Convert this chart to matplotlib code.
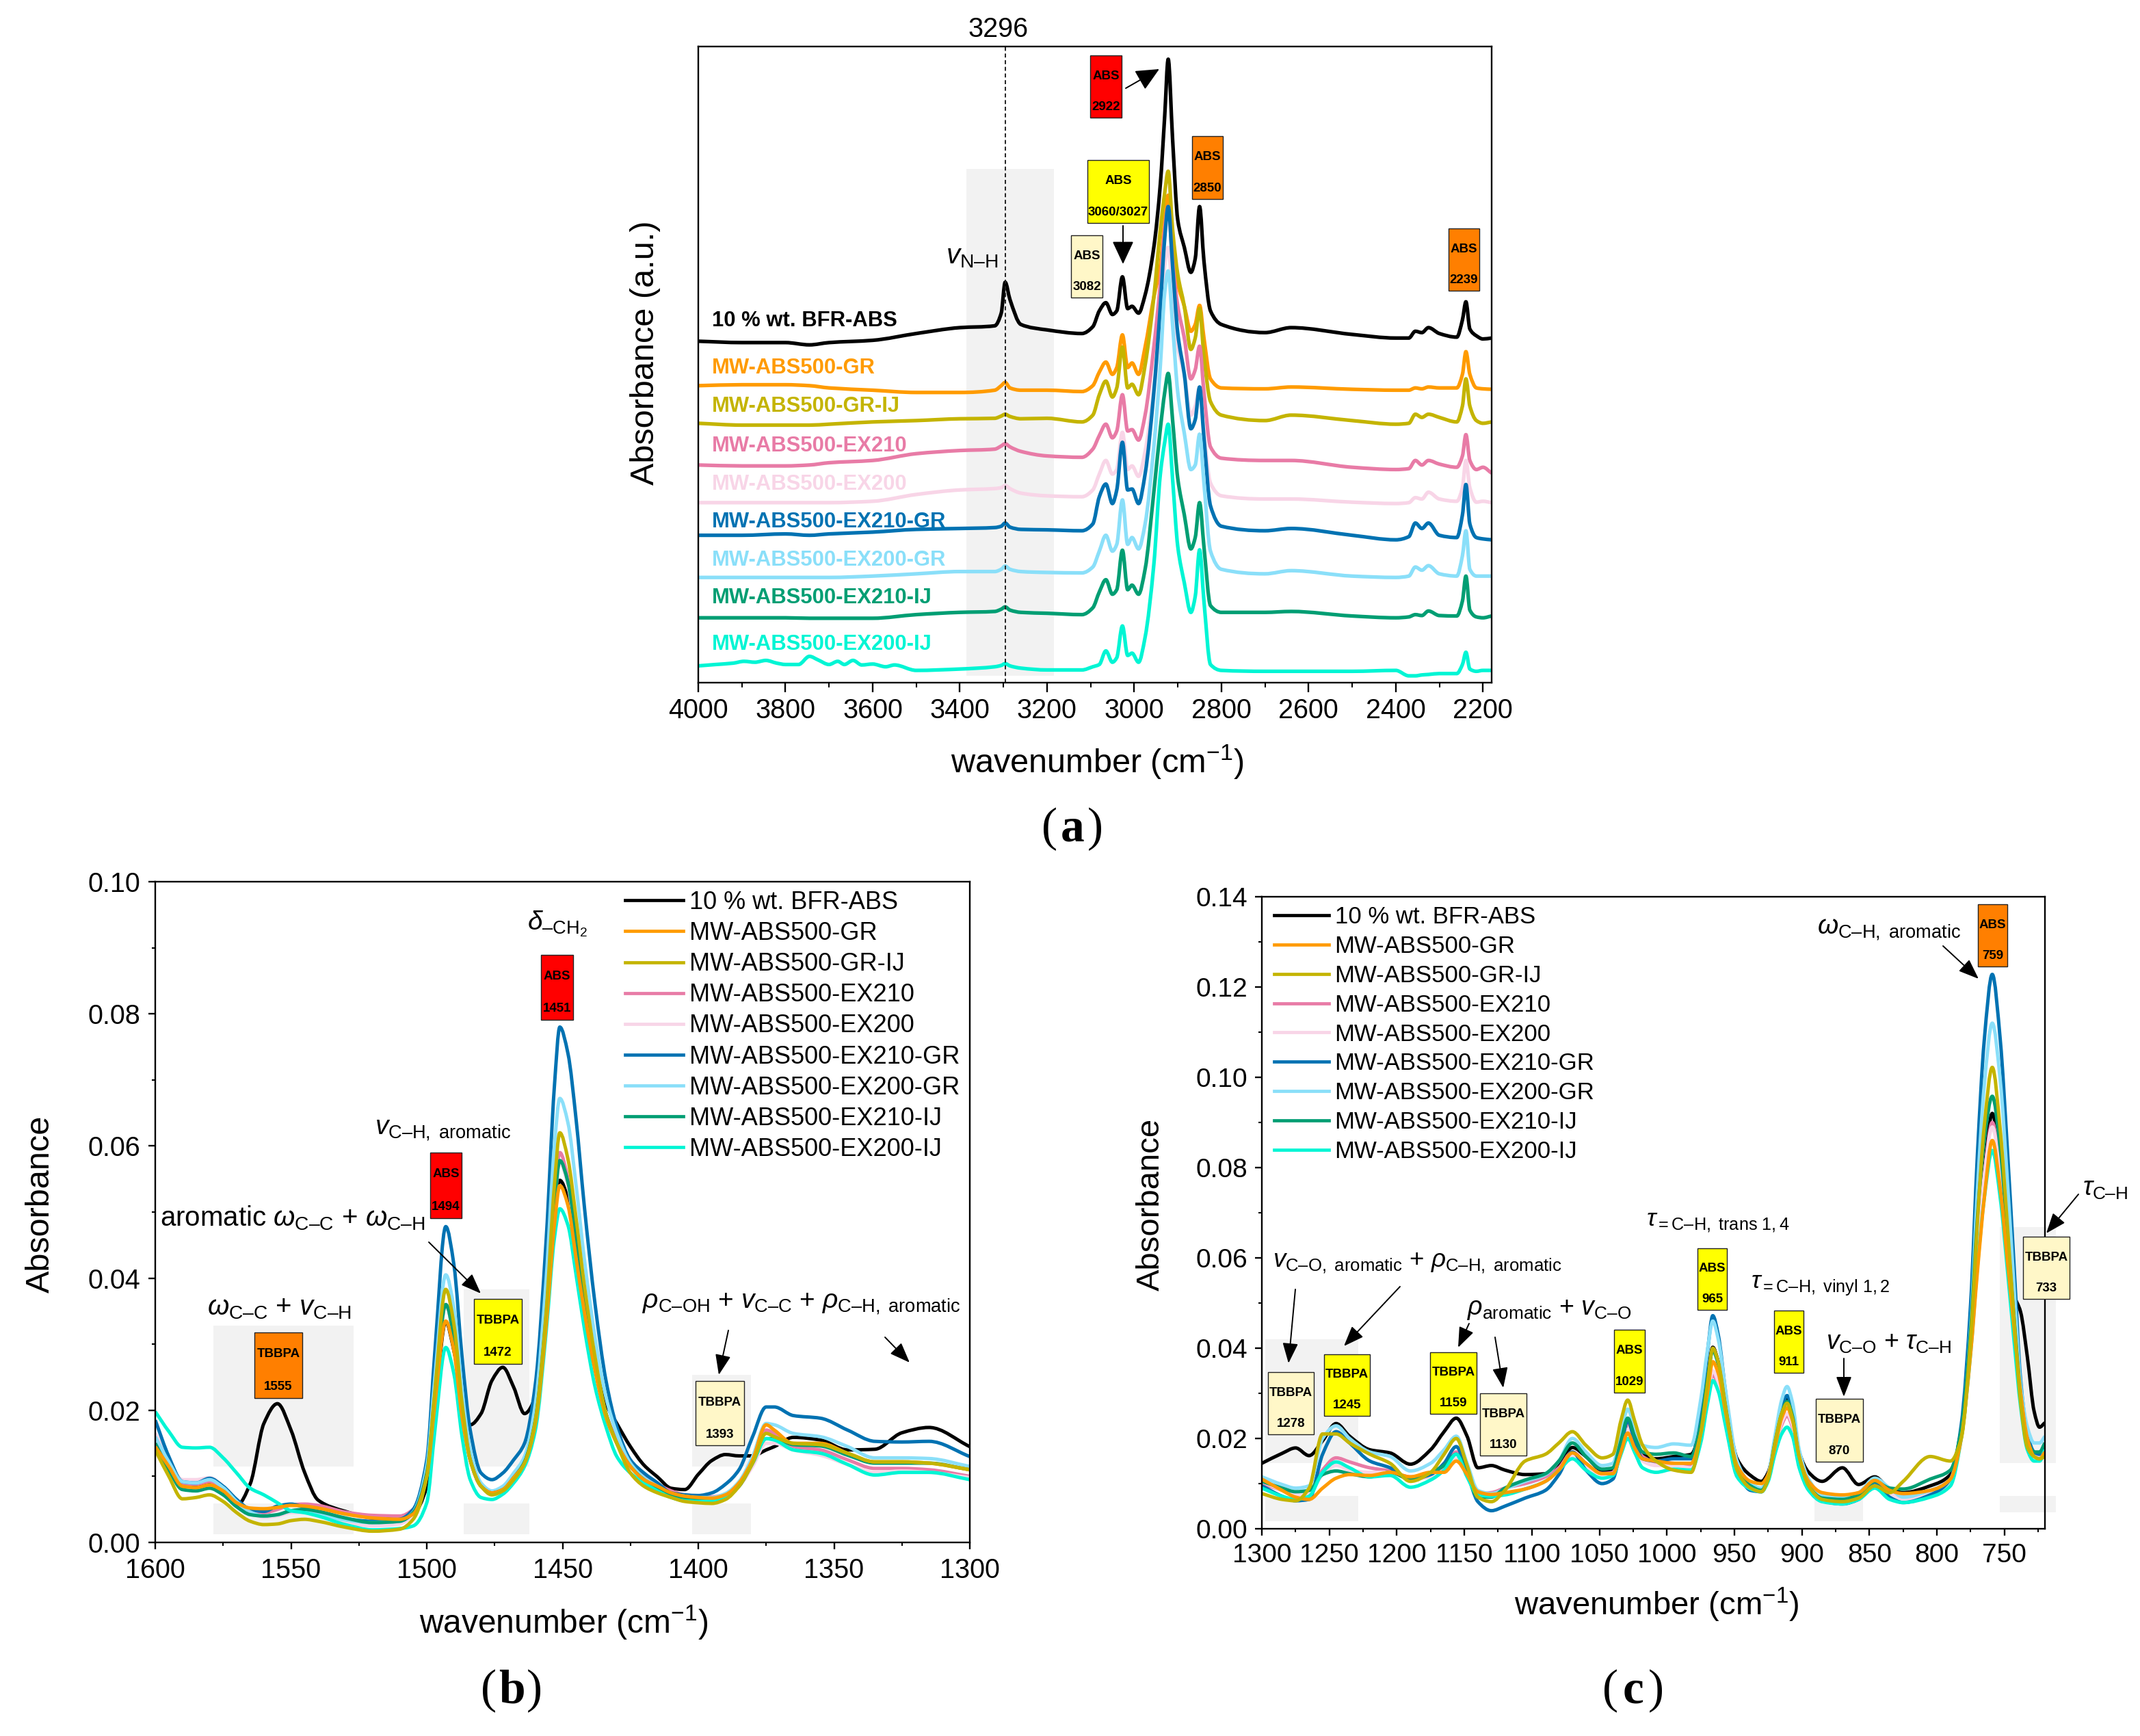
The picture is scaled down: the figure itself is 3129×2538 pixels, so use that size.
import numpy as np
import matplotlib
matplotlib.use('Agg')
import matplotlib.pyplot as plt
from matplotlib.lines import Line2D
from matplotlib.path import Path
from matplotlib.patches import Rectangle, FancyArrowPatch, PathPatch
from matplotlib.ticker import MultipleLocator

plt.rcParams['font.family'] = ['Liberation Sans', 'DejaVu Sans']
plt.rcParams['mathtext.fontset'] = 'custom'
plt.rcParams['mathtext.rm'] = 'Liberation Sans'
plt.rcParams['mathtext.it'] = 'Liberation Sans:italic'
plt.rcParams['mathtext.bf'] = 'Liberation Sans:bold'

W, H = 3129, 2538

names = ['10 % wt. BFR-ABS', 'MW-ABS500-GR', 'MW-ABS500-GR-IJ', 'MW-ABS500-EX210', 'MW-ABS500-EX200',
         'MW-ABS500-EX210-GR', 'MW-ABS500-EX200-GR', 'MW-ABS500-EX210-IJ', 'MW-ABS500-EX200-IJ']
colors = ['#000000', '#FF9B00', '#C4B400', '#E87BA6', '#F8D5E7', '#0072B2', '#8ADFF9', '#009E73', '#00F5D4']

# panel a, heights in a.u.
a_x = [4000, 3900, 3800, 3745, 3700, 3600, 3500, 3400, 3320, 3305, 3296, 3285, 3260, 3200, 3120, 3095, 3080, 3065,
       3050, 3040, 3027, 3015, 3005, 2990, 2975, 2955, 2940, 2930, 2922, 2912, 2900, 2885, 2870, 2860, 2850, 2840,
       2825, 2800, 2700, 2640, 2500, 2400, 2370, 2355, 2340, 2325, 2300, 2260, 2247, 2239, 2230, 2215, 2200, 2180]
a_black = [753, 750, 750, 745, 750, 755, 770, 783, 787, 815, 883, 845, 790, 778, 770, 785, 820, 838,
           812, 820, 895, 825, 830, 815, 855, 960, 1100, 1250, 1375, 1200, 1020, 960, 905, 935, 1050, 930,
           820, 790, 772, 783, 768, 760, 760, 775, 772, 783, 770, 762, 800, 840, 780, 765, 758, 760]
a_gr = [655, 657, 657, 655, 650, 645, 640, 640, 645, 655, 662, 650, 645, 645, 642, 655, 685, 707,
        680, 695, 767, 695, 705, 680, 740, 850, 920, 1020, 1075, 960, 880, 830, 775, 790, 832, 760,
        670, 650, 648, 652, 647, 645, 645, 650, 648, 652, 650, 650, 680, 730, 680, 650, 648, 647]
a_gr_ij = [572, 568, 568, 568, 570, 575, 578, 582, 583, 588, 592, 587, 582, 583, 575, 590, 635, 665,
           630, 650, 740, 650, 658, 635, 700, 850, 1000, 1080, 1128, 1000, 900, 830, 735, 760, 825, 720,
           620, 590, 578, 590, 578, 570, 572, 592, 585, 592, 585, 575, 610, 670, 610, 578, 572, 575]
a_ex210 = [480, 478, 478, 480, 485, 490, 505, 512, 515, 522, 527, 520, 510, 500, 497, 515, 545, 570,
           540, 555, 635, 555, 558, 535, 590, 740, 880, 1000, 1050, 930, 830, 760, 670, 690, 742, 640,
           520, 495, 490, 490, 475, 470, 472, 490, 480, 490, 482, 475, 500, 547, 490, 470, 475, 462]
a_ex200 = [397, 397, 397, 397, 397, 400, 415, 425, 428, 430, 435, 428, 418, 412, 410, 425, 460, 490,
           460, 470, 552, 470, 478, 455, 510, 650, 800, 920, 960, 850, 740, 680, 590, 610, 650, 550,
           440, 412, 405, 405, 398, 395, 397, 408, 405, 420, 405, 400, 430, 490, 430, 398, 400, 397]
a_ex210_gr = [325, 325, 328, 325, 328, 332, 338, 340, 342, 345, 352, 343, 338, 337, 335, 350, 410, 438,
              395, 425, 530, 425, 427, 395, 460, 640, 830, 980, 1050, 920, 770, 680, 560, 580, 652, 540,
              390, 345, 335, 340, 325, 315, 322, 352, 340, 352, 325, 320, 370, 437, 350, 320, 317, 315]
a_ex200_gr = [232, 232, 232, 232, 232, 235, 240, 245, 245, 250, 257, 250, 245, 243, 242, 255, 290, 325,
              290, 305, 403, 305, 320, 295, 350, 520, 700, 860, 908, 790, 640, 550, 470, 480, 548, 440,
              290, 250, 240, 247, 235, 232, 235, 255, 248, 258, 240, 235, 280, 335, 250, 235, 235, 235]
a_ex210_ij = [143, 143, 143, 142, 142, 142, 150, 155, 157, 162, 167, 160, 155, 153, 150, 165, 200, 227,
              195, 205, 292, 205, 215, 195, 250, 420, 560, 640, 682, 580, 450, 370, 295, 320, 397, 300,
              170, 155, 155, 157, 147, 143, 145, 150, 148, 158, 148, 147, 180, 235, 160, 145, 143, 147]
# the last trace is noisy above 3500, so it has its own wavenumbers there
a_x_ij200 = [4000, 3960, 3920, 3895, 3870, 3845, 3820, 3800, 3770, 3745, 3725, 3700, 3680, 3665, 3645, 3625, 3600, 3570, 3550, 3500,
             3400, 3320, 3305, 3296, 3285, 3260, 3200, 3120, 3095, 3080, 3065,
             3050, 3040, 3027, 3015, 3005, 2990, 2975, 2955, 2940, 2930, 2922, 2912, 2900, 2885, 2870, 2860, 2850, 2840,
             2825, 2800, 2700, 2640, 2500, 2400, 2370, 2355, 2340, 2325, 2300, 2260, 2247, 2239, 2230, 2215, 2200, 2180]
a_ex200_ij = [37, 40, 43, 47, 45, 49, 43, 40, 40, 58, 50, 40, 47, 40, 49, 39, 41, 35, 39, 27,
              30, 35, 38, 42, 37, 32, 28, 28, 35, 40, 70,
              45, 55, 125, 60, 65, 45, 100, 260, 460, 530, 570, 450, 300, 220, 155, 190, 293, 180,
              40, 27, 25, 25, 25, 27, 15, 15, 17, 18, 20, 20, 40, 67, 30, 25, 27, 27]

# panel b
b_x = [1600, 1595, 1590, 1585, 1580, 1575, 1570, 1565, 1560, 1555, 1550, 1545, 1540, 1530, 1520, 1510, 1505, 1500, 1497,
       1493, 1490, 1487, 1484, 1480, 1476, 1472, 1468, 1464, 1460, 1456, 1453, 1451, 1448, 1445, 1442, 1438, 1434, 1430,
       1425, 1420, 1415, 1410, 1405, 1400, 1395, 1390, 1385, 1380, 1375, 1372, 1365, 1355, 1345, 1335, 1325, 1315, 1300]
b_black = [.0145, .0112, .0085, .0085, .0088, .0078, .0056, .0089, .0180, .0210, .0170, .0106, .0064, .0047, .0037, .0035, .0043, .0085, .0200,
           .0334, .0290, .0220, .0178, .0195, .0245, .0265, .0235, .0195, .0220, .0350, .0490, .0548, .0520, .0440, .0350, .0265, .0210, .0180,
           .0145, .0117, .0099, .0082, .0080, .0103, .0124, .0133, .0131, .0131, .0140, .0145, .0159, .0155, .0140, .0141, .0166, .0174, .0145]
b_gr = [.0145, .0115, .0085, .0083, .0087, .0078, .0060, .0052, .0051, .0053, .0056, .0055, .0052, .0043, .0037, .0035, .0043, .0100, .0210,
        .0335, .0290, .0190, .0125, .0085, .0075, .0080, .0098, .0120, .0180, .0330, .0480, .0540, .0510, .0430, .0350, .0260, .0190, .0150,
        .0115, .0095, .0085, .0075, .0070, .0068, .0067, .0072, .0090, .0125, .0178, .0170, .0150, .0150, .0135, .0122, .0122, .0120, .0110]
b_gr_ij = [.0140, .0100, .0066, .0068, .0072, .0062, .0045, .0032, .0027, .0028, .0033, .0035, .0032, .0023, .0017, .0020, .0035, .0100, .0230,
           .0383, .0330, .0210, .0125, .0085, .0072, .0078, .0095, .0120, .0185, .0350, .0540, .0620, .0580, .0490, .0390, .0280, .0195, .0150,
           .0105, .0085, .0075, .0068, .0062, .0060, .0059, .0065, .0085, .0120, .0165, .0160, .0150, .0148, .0135, .0122, .0122, .0120, .0110]
b_ex210 = [.0150, .0115, .0088, .0088, .0092, .0080, .0060, .0048, .0045, .0050, .0057, .0058, .0056, .0046, .0041, .0040, .0050, .0105, .0225,
           .0360, .0310, .0200, .0125, .0085, .0075, .0080, .0098, .0122, .0185, .0350, .0520, .0590, .0550, .0465, .0370, .0270, .0195, .0155,
           .0120, .0100, .0088, .0078, .0072, .0070, .0069, .0073, .0090, .0125, .0170, .0165, .0145, .0140, .0125, .0112, .0112, .0110, .0100]
b_ex200 = [.0165, .0125, .0095, .0095, .0098, .0085, .0062, .0045, .0038, .0040, .0045, .0045, .0040, .0030, .0025, .0028, .0042, .0105, .0225,
           .0360, .0310, .0200, .0125, .0088, .0078, .0082, .0100, .0122, .0185, .0345, .0510, .0575, .0540, .0455, .0365, .0265, .0190, .0150,
           .0115, .0095, .0085, .0075, .0070, .0068, .0067, .0070, .0085, .0115, .0150, .0150, .0140, .0132, .0118, .0106, .0108, .0106, .0098]
b_ex210_gr = [.0185, .0130, .0092, .0090, .0097, .0085, .0065, .0050, .0047, .0055, .0058, .0053, .0046, .0036, .0032, .0035, .0050, .0125, .0290,
              .0478, .0420, .0280, .0170, .0105, .0095, .0105, .0125, .0150, .0240, .0460, .0690, .0780, .0740, .0640, .0510, .0360, .0245, .0175,
              .0125, .0105, .0090, .0075, .0072, .0071, .0075, .0088, .0110, .0160, .0205, .0205, .0192, .0188, .0170, .0153, .0152, .0153, .0130]
b_ex200_gr = [.0160, .0122, .0092, .0090, .0095, .0083, .0062, .0046, .0040, .0042, .0047, .0047, .0043, .0034, .0030, .0032, .0046, .0115, .0250,
              .0405, .0355, .0230, .0140, .0090, .0078, .0085, .0105, .0130, .0210, .0400, .0600, .0672, .0635, .0540, .0430, .0310, .0220, .0165,
              .0120, .0098, .0085, .0074, .0070, .0068, .0068, .0074, .0092, .0130, .0180, .0178, .0165, .0160, .0145, .0128, .0128, .0127, .0115]
b_ex210_ij = [.0150, .0110, .0080, .0078, .0082, .0072, .0054, .0042, .0040, .0042, .0048, .0050, .0047, .0037, .0030, .0032, .0045, .0105, .0225,
              .0360, .0310, .0200, .0125, .0085, .0075, .0080, .0098, .0122, .0185, .0345, .0510, .0578, .0545, .0460, .0365, .0265, .0195, .0150,
              .0115, .0095, .0082, .0072, .0066, .0064, .0063, .0068, .0085, .0120, .0157, .0157, .0148, .0146, .0132, .0120, .0120, .0120, .0110]
b_ex200_ij = [.0198, .0168, .0144, .0143, .0144, .0128, .0105, .0082, .0072, .0060, .0048, .0045, .0040, .0027, .0019, .0021, .0025, .0060, .0170,
              .0295, .0255, .0160, .0095, .0068, .0065, .0073, .0090, .0115, .0170, .0320, .0460, .0505, .0480, .0405, .0325, .0235, .0175, .0130,
              .0105, .0090, .0078, .0068, .0063, .0062, .0063, .0070, .0088, .0120, .0157, .0155, .0140, .0135, .0118, .0102, .0106, .0106, .0095]

# panel c
c_x = [1300, 1285, 1275, 1265, 1255, 1245, 1235, 1220, 1205, 1190, 1175, 1165, 1156, 1148, 1140, 1130, 1120, 1105, 1090, 1080, 1070, 1060,
       1048, 1040, 1034, 1029, 1024, 1018, 1008, 995, 982, 975, 970, 966, 962, 956, 948, 938, 930, 925, 920, 915, 911, 907, 902, 895, 885,
       870, 858, 846, 835, 825, 805, 790, 782, 775, 770, 765, 759, 753, 748, 743, 738, 733, 728, 724, 720]
c_black = [.0145, .0167, .0179, .0162, .0195, .0233, .0205, .0175, .0168, .0143, .0175, .0215, .0245, .0205, .0135, .0140, .0130, .0120, .0122, .0140, .0180, .0160,
           .0130, .0130, .0170, .0238, .0205, .0165, .0155, .0160, .0165, .0225, .0330, .0402, .0370, .0270, .0155, .0118, .0105, .0125, .0190, .0265, .0288, .0260, .0170, .0125, .0105,
           .0135, .0098, .0115, .0088, .0080, .0095, .0120, .0220, .0420, .0620, .0790, .0920, .0800, .0640, .0520, .0480, .0380, .0260, .0225, .0235]
c_gr = [.0110, .0085, .0070, .0065, .0090, .0112, .0120, .0118, .0125, .0115, .0125, .0125, .0150, .0120, .0082, .0076, .0080, .0088, .0105, .0130, .0168, .0145,
        .0122, .0122, .0170, .0212, .0180, .0155, .0150, .0145, .0145, .0210, .0300, .0370, .0345, .0250, .0140, .0105, .0100, .0120, .0180, .0245, .0268, .0240, .0160, .0105, .0080,
        .0075, .0080, .0107, .0085, .0078, .0085, .0110, .0200, .0390, .0570, .0730, .0860, .0750, .0600, .0450, .0300, .0200, .0160, .0155, .0170]
c_gr_ij = [.0078, .0065, .0062, .0090, .0210, .0210, .0190, .0165, .0145, .0105, .0125, .0165, .0200, .0140, .0070, .0060, .0085, .0150, .0165, .0190, .0215, .0185,
           .0157, .0165, .0240, .0285, .0240, .0185, .0150, .0130, .0125, .0210, .0320, .0400, .0370, .0260, .0130, .0090, .0082, .0110, .0190, .0255, .0278, .0245, .0160, .0095, .0065,
           .0060, .0068, .0095, .0080, .0105, .0160, .0150, .0200, .0420, .0680, .0890, .1022, .0880, .0680, .0470, .0280, .0180, .0160, .0155, .0160]
c_ex210 = [.0100, .0085, .0075, .0080, .0130, .0157, .0148, .0135, .0128, .0115, .0120, .0140, .0170, .0130, .0078, .0080, .0090, .0100, .0115, .0135, .0170, .0145,
           .0122, .0125, .0180, .0235, .0195, .0160, .0148, .0145, .0140, .0195, .0290, .0340, .0320, .0235, .0130, .0095, .0085, .0110, .0170, .0230, .0250, .0225, .0150, .0100, .0075,
           .0068, .0072, .0100, .0085, .0072, .0085, .0110, .0200, .0400, .0610, .0780, .0900, .0790, .0630, .0460, .0290, .0200, .0165, .0160, .0185]
c_ex200 = [.0105, .0085, .0075, .0078, .0120, .0140, .0130, .0125, .0125, .0110, .0115, .0130, .0155, .0120, .0075, .0072, .0078, .0088, .0105, .0130, .0160, .0135,
           .0118, .0120, .0170, .0220, .0185, .0150, .0140, .0140, .0135, .0190, .0285, .0350, .0325, .0235, .0125, .0090, .0085, .0110, .0170, .0235, .0255, .0230, .0150, .0095, .0072,
           .0065, .0072, .0100, .0080, .0065, .0078, .0105, .0200, .0400, .0610, .0780, .0890, .0780, .0620, .0450, .0285, .0190, .0160, .0160, .0180]
c_ex210_gr = [.0095, .0072, .0062, .0065, .0165, .0215, .0190, .0150, .0135, .0110, .0120, .0145, .0182, .0125, .0060, .0040, .0050, .0068, .0085, .0120, .0170, .0130,
              .0100, .0110, .0180, .0240, .0195, .0155, .0150, .0155, .0155, .0260, .0390, .0472, .0430, .0290, .0135, .0085, .0082, .0110, .0190, .0265, .0295, .0260, .0160, .0095, .0062,
              .0055, .0065, .0103, .0070, .0058, .0075, .0110, .0230, .0500, .0830, .1080, .1228, .1080, .0850, .0590, .0330, .0210, .0170, .0165, .0190]
c_ex200_gr = [.0115, .0098, .0090, .0095, .0200, .0228, .0200, .0170, .0160, .0128, .0145, .0175, .0205, .0145, .0085, .0078, .0088, .0105, .0120, .0150, .0200, .0170,
              .0140, .0145, .0210, .0265, .0225, .0185, .0180, .0188, .0185, .0285, .0395, .0460, .0420, .0295, .0150, .0100, .0090, .0120, .0205, .0285, .0315, .0280, .0175, .0110, .0075,
              .0070, .0080, .0112, .0090, .0070, .0085, .0110, .0210, .0450, .0750, .0980, .1120, .0990, .0780, .0540, .0320, .0225, .0190, .0190, .0205]
c_ex210_ij = [.0105, .0090, .0082, .0085, .0120, .0128, .0122, .0115, .0125, .0110, .0125, .0140, .0165, .0120, .0070, .0070, .0090, .0108, .0122, .0150, .0190, .0160,
              .0132, .0135, .0195, .0245, .0205, .0170, .0165, .0168, .0160, .0230, .0330, .0395, .0365, .0260, .0130, .0095, .0085, .0110, .0190, .0255, .0282, .0250, .0155, .0095, .0068,
              .0065, .0075, .0105, .0090, .0088, .0110, .0130, .0220, .0440, .0690, .0860, .0958, .0840, .0660, .0470, .0300, .0195, .0170, .0170, .0190]
c_ex200_ij = [.0090, .0072, .0065, .0072, .0125, .0148, .0135, .0115, .0118, .0092, .0108, .0130, .0165, .0115, .0075, .0072, .0075, .0088, .0105, .0130, .0155, .0130,
              .0112, .0118, .0165, .0200, .0170, .0135, .0125, .0132, .0130, .0190, .0275, .0328, .0305, .0220, .0115, .0088, .0082, .0105, .0165, .0210, .0225, .0205, .0135, .0085, .0060,
              .0055, .0065, .0090, .0065, .0058, .0070, .0095, .0200, .0390, .0580, .0730, .0838, .0730, .0580, .0420, .0270, .0175, .0150, .0150, .0175]

a_series = [a_black, a_gr, a_gr_ij, a_ex210, a_ex200, a_ex210_gr, a_ex200_gr, a_ex210_ij, a_ex200_ij]
b_series = [b_black, b_gr, b_gr_ij, b_ex210, b_ex200, b_ex210_gr, b_ex200_gr, b_ex210_ij, b_ex200_ij]
c_series = [c_black, c_gr, c_gr_ij, c_ex210, c_ex200, c_ex210_gr, c_ex200_gr, c_ex210_ij, c_ex200_ij]
# olive and orange sit on top in b and c
top_order = [0, 3, 4, 5, 6, 7, 8, 1, 2]

fig = plt.figure(figsize=(W / 100, H / 100), dpi=100)


def axes_px(l, t, r, b):
    ax = fig.add_axes([l / W, 1 - b / H, (r - l) / W, (b - t) / H])
    ax.patch.set_visible(False)
    return ax


def curve(ax, x, y, col, lw=3.6):
    # spectrum line through the read values, bezier segments so the joints stay round
    x = np.array(x, dtype=float)
    y = np.array(y, dtype=float)
    h = np.diff(x)
    d = np.diff(y) / h
    m = np.zeros(len(x))
    m[0], m[-1] = d[0], d[-1]
    for i in range(1, len(x) - 1):
        if d[i - 1] * d[i] > 0:
            w1 = 2 * h[i] + h[i - 1]
            w2 = h[i] + 2 * h[i - 1]
            m[i] = (w1 + w2) / (w1 / d[i - 1] + w2 / d[i])
    verts = [(x[0], y[0])]
    codes = [Path.MOVETO]
    for i in range(len(h)):
        verts += [(x[i] + h[i] / 3, y[i] + m[i] * h[i] / 3),
                  (x[i + 1] - h[i] / 3, y[i + 1] - m[i + 1] * h[i] / 3),
                  (x[i + 1], y[i + 1])]
        codes += [Path.CURVE4] * 3
    ax.add_patch(PathPatch(Path(verts, codes), fc='none', ec=col, lw=lw, joinstyle='round', capstyle='butt'))


def txt(x, y, s, size, **kw):
    kw.setdefault('ha', 'center')
    kw.setdefault('va', 'center')
    kw.setdefault('zorder', 6)
    fig.text(x / W, 1 - y / H, s, fontsize=size, **kw)


def gray(x0, y0, x1, y1):
    fig.add_artist(Rectangle((x0 / W, 1 - y1 / H), (x1 - x0) / W, (y1 - y0) / H, fc='#F2F2F2', ec='none', zorder=-1))


def tag(x0, y0, x1, y1, col, top, num):
    fig.add_artist(Rectangle((x0 / W, 1 - y1 / H), (x1 - x0) / W, (y1 - y0) / H, fc=col, ec='#222222', lw=1.0, zorder=5))
    h = y1 - y0
    txt((x0 + x1) / 2, y0 + h * 0.33, top, 13.5, fontweight='bold')
    txt((x0 + x1) / 2, y0 + h * 0.83, num, 13.5, fontweight='bold')


def arrow(x0, y0, x1, y1, big=False):
    style = '-|>,head_length=%g,head_width=%g' % ((15, 7) if big else (13, 5))
    fig.add_artist(FancyArrowPatch((x0 / W, 1 - y0 / H), (x1 / W, 1 - y1 / H), arrowstyle=style, mutation_scale=1.4,
                                   shrinkA=0, shrinkB=0, lw=1.4, color='black', zorder=6))


def panel_label(x, y, letter):
    txt(x - 33, y, '(', 50, family='Liberation Serif')
    txt(x, y, letter, 50, family='Liberation Serif', fontweight='bold')
    txt(x + 33, y, ')', 50, family='Liberation Serif')


def style_axes(ax, size, length, pad=8):
    for s in ax.spines.values():
        s.set_linewidth(1.7)
    ax.tick_params(which='major', length=length, width=1.7, labelsize=size, pad=pad)
    ax.tick_params(which='minor', length=length / 2, width=1.5)


def legend(ax, x, y, size, hl, spacing):
    handles = [Line2D([], [], color=c, lw=3.4) for c in colors]
    ax.legend(handles, names, loc='upper left', bbox_to_anchor=(x, y), frameon=False, fontsize=size, handlelength=hl,
              handletextpad=0.25, labelspacing=spacing, borderpad=0, borderaxespad=0)


RED, ORANGE, YELLOW, CREAM = '#FF0000', '#FF7F00', '#FFFF00', '#FFF7C8'

# ---- panel a ----
ax = axes_px(1021, 68, 2181, 998)
for i in range(8):
    curve(ax, a_x, a_series[i], colors[i], lw=3.8)
curve(ax, a_x_ij200, a_series[8], colors[8], lw=3.8)
ax.axvline(3296, color='#222222', lw=1.4, ls=(0, (3, 2)))
ax.set_xlim(4000, 2180)
ax.set_ylim(0, 1403)
ax.set_yticks([])
ax.xaxis.set_major_locator(MultipleLocator(200))
ax.xaxis.set_minor_locator(MultipleLocator(100))
style_axes(ax, 28.5, 10, pad=6)
gray(1413, 247, 1541, 988)
txt(1460, 43, '3296', 28.5)
txt(944, 516, 'Absorbance (a.u.)', 35, rotation=90)
txt(1604, 1114, 'wavenumber (cm$^{\u22121}$)', 35)
txt(1421, 375, r'$v_{\mathrm{N–H}}$', 29)
label_y = [469, 538, 594, 652, 708, 763, 819, 874, 942]
for y, n, col in zip(label_y, names, colors):
    txt(1041, y, n, 22.3, color=col, fontweight='bold', ha='left')
tag(1594, 81, 1640, 172, RED, 'ABS', '2922')
tag(1590, 234, 1680, 326, YELLOW, 'ABS', '3060/3027')
tag(1566, 344, 1612, 435, CREAM, 'ABS', '3082')
tag(1743, 199, 1788, 291, ORANGE, 'ABS', '2850')
tag(2118, 334, 2163, 425, ORANGE, 'ABS', '2239')
arrow(1646, 129, 1695, 101, big=True)
arrow(1642, 330, 1642, 386, big=True)
panel_label(1568, 1212, 'a')

# ---- panel b ----
ax = axes_px(227, 1289, 1418, 2255)
for i in top_order:
    curve(ax, b_x, b_series[i], colors[i])
ax.set_xlim(1600, 1300)
ax.set_ylim(0, 0.10)
ax.set_yticks([0, 0.02, 0.04, 0.06, 0.08, 0.10])
ax.set_yticklabels(['0.00', '0.02', '0.04', '0.06', '0.08', '0.10'])
ax.yaxis.set_minor_locator(MultipleLocator(0.01))
ax.xaxis.set_major_locator(MultipleLocator(50))
ax.xaxis.set_minor_locator(MultipleLocator(25))
style_axes(ax, 28.5, 7.5)
legend(ax, (914 - 227) / 1191, 1 - 13 / 966, 26, 2.35, 0.28)
gray(312, 1938, 517, 2144)
gray(312, 2198, 517, 2243)
gray(678, 1885, 774, 2144)
gray(678, 2198, 774, 2243)
gray(1012, 2010, 1098, 2144)
gray(1012, 2198, 1098, 2243)
txt(59, 1760, 'Absorbance', 35, rotation=90)
txt(824, 2372, 'wavenumber (cm$^{\u22121}$)', 34.5)
txt(815, 1351, r'$\delta_{–\mathrm{CH_2}}$', 28)
txt(648, 1652, r'$v_{\mathrm{C–H,\ aromatic}}$', 28)
txt(428, 1781, r'aromatic $\omega_{\mathrm{C–C}}$ + $\omega_{\mathrm{C–H}}$', 29)
txt(408, 1912, r'$\omega_{\mathrm{C–C}}$ + $v_{\mathrm{C–H}}$', 29)
txt(1172, 1906, r'$\rho_{\mathrm{C–OH}}$ + $v_{\mathrm{C–C}}$ + $\rho_{\mathrm{C–H,\ aromatic}}$', 28)
tag(372, 1948, 442, 2044, ORANGE, 'TBBPA', '1555')
tag(629, 1685, 675, 1781, RED, 'ABS', '1494')
tag(791, 1396, 838, 1491, RED, 'ABS', '1451')
tag(693, 1899, 763, 1994, YELLOW, 'TBBPA', '1472')
tag(1017, 2019, 1088, 2113, CREAM, 'TBBPA', '1393')
arrow(627, 1816, 703, 1891)
arrow(1065, 1945, 1051, 2010)
arrow(1294, 1955, 1330, 1992)
panel_label(748, 2472, 'b')

# ---- panel c ----
ax = axes_px(1845, 1311, 2990, 2235)
for i in top_order:
    curve(ax, c_x, c_series[i], colors[i])
ax.set_xlim(1300, 720)
ax.set_ylim(0, 0.14)
ax.set_yticks([0, 0.02, 0.04, 0.06, 0.08, 0.10, 0.12, 0.14])
ax.set_yticklabels(['0.00', '0.02', '0.04', '0.06', '0.08', '0.10', '0.12', '0.14'])
ax.yaxis.set_minor_locator(MultipleLocator(0.01))
ax.xaxis.set_major_locator(MultipleLocator(50))
ax.xaxis.set_minor_locator(MultipleLocator(25))
style_axes(ax, 28, 7)
legend(ax, 18 / 1145, 1 - 13 / 924, 25, 2.3, 0.285)
gray(1850, 1958, 1986, 2139)
gray(1850, 2187, 1986, 2224)
gray(2653, 2190, 2724, 2224)
gray(2924, 1794, 3006, 2139)
gray(2924, 2187, 3006, 2211)
txt(1683, 1761, 'Absorbance', 34, rotation=90)
txt(2422, 2346, 'wavenumber (cm$^{\u22121}$)', 34)
txt(2072, 1846, r'$v_{\mathrm{C–O,\ aromatic}}$ + $\rho_{\mathrm{C–H,\ aromatic}}$', 26.5)
txt(2265, 1914, r'$\rho_{\mathrm{aromatic}}$ + $v_{\mathrm{C–O}}$', 27)
txt(2512, 1786, r'$\tau_{\mathrm{=C–H,\ trans\ 1,4}}$', 26)
txt(2662, 1879, r'$\tau_{\mathrm{=C–H,\ vinyl\ 1,2}}$', 26)
txt(2761, 1963, r'$v_{\mathrm{C–O}}$ + $\tau_{\mathrm{C–H}}$', 27)
txt(2762, 1359, r'$\omega_{\mathrm{C–H,\ aromatic}}$', 28)
txt(3078, 1738, r'$\tau_{\mathrm{C–H}}$', 27)
tag(1854, 2006, 1921, 2097, CREAM, 'TBBPA', '1278')
tag(1936, 1980, 2003, 2070, YELLOW, 'TBBPA', '1245')
tag(2091, 1977, 2159, 2067, YELLOW, 'TBBPA', '1159')
tag(2164, 2037, 2232, 2128, CREAM, 'TBBPA', '1130')
tag(2360, 1944, 2405, 2036, YELLOW, 'ABS', '1029')
tag(2482, 1825, 2525, 1915, YELLOW, 'ABS', '965')
tag(2594, 1916, 2637, 2007, YELLOW, 'ABS', '911')
tag(2655, 2045, 2724, 2137, CREAM, 'TBBPA', '870')
tag(2892, 1322, 2935, 1413, ORANGE, 'ABS', '759')
tag(2958, 1808, 3026, 1899, CREAM, 'TBBPA', '733')
arrow(1894, 1885, 1884, 1993)
arrow(2047, 1881, 1965, 1968)
arrow(2148, 1935, 2132, 1970)
arrow(2186, 1955, 2198, 2029)
arrow(2841, 1383, 2893, 1431)
arrow(3039, 1746, 2992, 1803)
arrow(2696, 1986, 2696, 2042)
panel_label(2388, 2472, 'c')

fig.savefig('out.png', dpi=100)
